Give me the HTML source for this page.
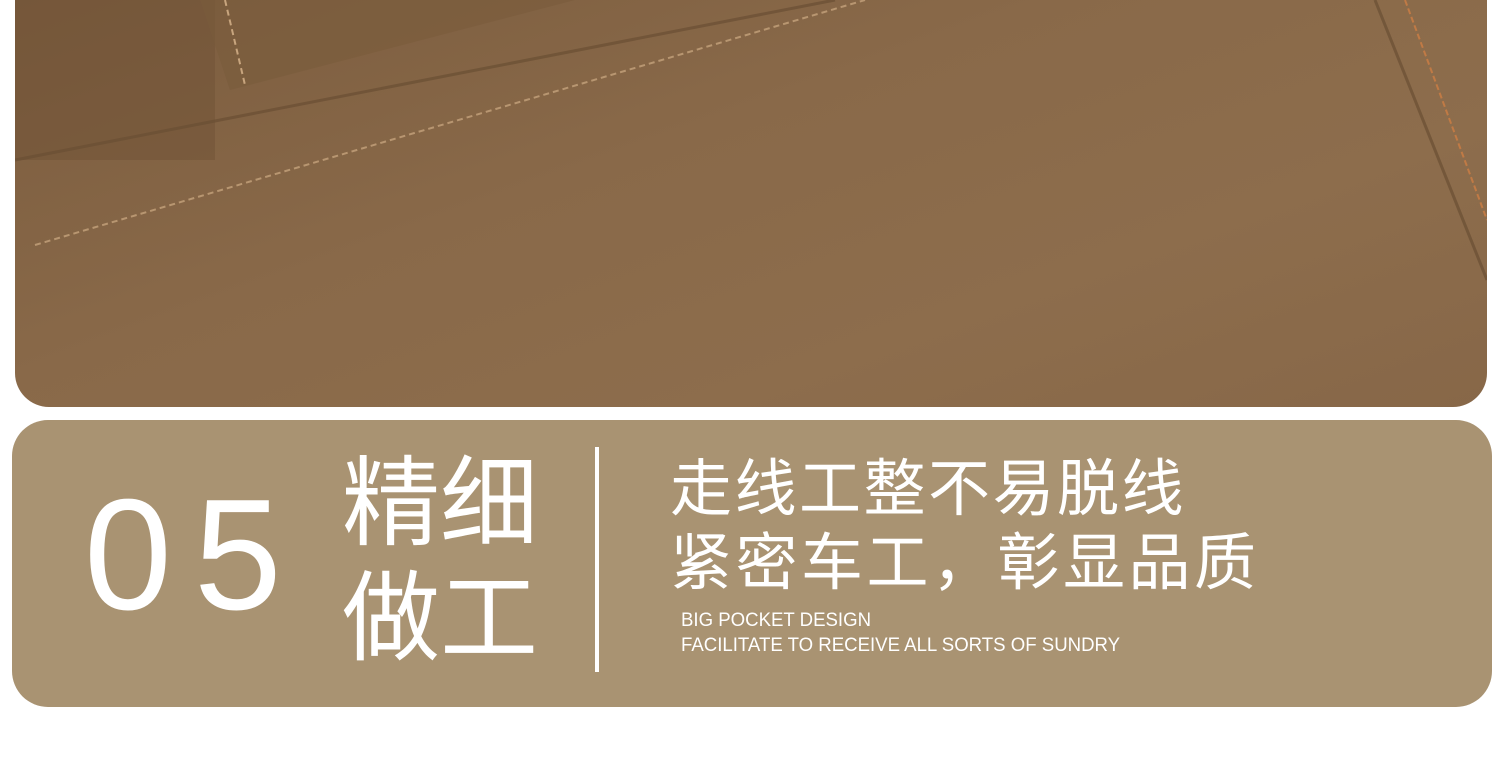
<!DOCTYPE html>
<html><head><meta charset="utf-8">
<style>
html,body{margin:0;padding:0;background:#fff;}
body{width:1500px;height:763px;position:relative;overflow:hidden;font-family:"Liberation Sans","Noto Sans CJK SC",sans-serif;}
#photo{position:absolute;left:15px;top:0;width:1472px;height:407px;border-radius:0 0 34px 34px;overflow:hidden;
background:linear-gradient(160deg,#7b5c3e 0%,#896949 40%,#8d6d4c 70%,#876748 100%);}
#panel{position:absolute;left:12px;top:420px;width:1480px;height:287px;border-radius:36px;background:#a99372;}
.t{position:absolute;color:#fff;white-space:nowrap;}
</style></head><body>
<div id="photo">
<svg width="1472" height="407" style="position:absolute;left:0;top:0">
<rect x="0" y="0" width="200" height="160" fill="#6f5236" opacity="0.5"/>
<path d="M185 0 L215 90 L560 0" fill="#7a5b3c" opacity="0.6"/>
<line x1="210" y1="0" x2="230" y2="85" stroke="#c8a57e" stroke-width="2" stroke-dasharray="6 4"/>
<path d="M0 160 L820 0" stroke="#6a4e33" stroke-width="3" fill="none" opacity="0.7"/>
<path d="M20 245 L850 0" stroke="#c4a27c" stroke-width="2" stroke-dasharray="6 4" fill="none" opacity="0.8"/>
<path d="M1360 0 L1472 280" stroke="#6a4e33" stroke-width="3" fill="none" opacity="0.7"/>
<path d="M1390 0 L1472 220" stroke="#c07a45" stroke-width="2" stroke-dasharray="6 3" fill="none"/>
</svg>
</div>
<div id="panel"></div>
<div class="t" style="left:84px;top:470px;font-size:158px;line-height:170px;letter-spacing:22px;">05</div>
<div class="t" style="left:342px;top:448px;font-size:98px;line-height:110px;">精细</div>
<div class="t" style="left:342px;top:563px;font-size:98px;line-height:110px;">做工</div>
<div style="position:absolute;left:595px;top:447px;width:4px;height:225px;background:#fff;"></div>
<div class="t" style="left:670px;top:454px;font-size:62px;line-height:72px;letter-spacing:2.5px;">走线工整不易脱线</div>
<div class="t" style="left:670px;top:528px;font-size:62px;line-height:72px;letter-spacing:3.5px;">紧密车工，彰显品质</div>
<div class="t" style="left:681px;top:610px;font-size:19px;line-height:22px;transform:scaleX(0.98);transform-origin:left;">BIG POCKET DESIGN</div>
<div class="t" style="left:681px;top:635px;font-size:19px;line-height:22px;transform:scaleX(0.98);transform-origin:left;">FACILITATE TO RECEIVE ALL SORTS OF SUNDRY</div>
</body></html>
